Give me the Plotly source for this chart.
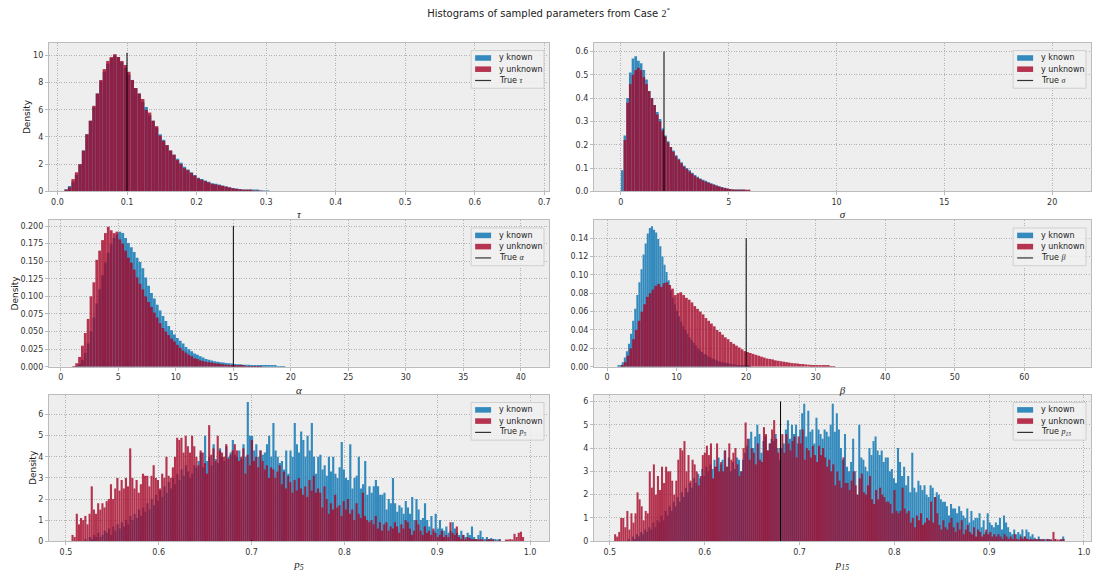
import plotly.graph_objects as go

# ---------------- data (bin heights) ----------------
TAU_BIN_START = 0.010
TAU_BIN_WIDTH = 0.005
TAU_KNOWN = [0.15, 0.4, 0.7, 1.2, 2.0, 3.0, 4.2, 5.2, 6.2, 7.2, 8.1, 8.8, 9.4, 9.8, 10.0, 9.9, 9.5, 9.1,
             8.6, 8.2, 7.6, 7.2, 6.6, 6.2, 5.6, 5.2, 4.7, 4.2, 3.8, 3.4, 3.0, 2.7, 2.4, 2.1, 1.8, 1.6,
             1.4, 1.2, 1.0, 0.9, 0.8, 0.7, 0.6, 0.55, 0.5, 0.42, 0.36, 0.3, 0.25, 0.2, 0.17, 0.14,
             0.12, 0.1, 0.08, 0.06, 0.05, 0.04, 0.03]
TAU_UNKNOWN = [0.1, 0.3, 0.9, 1.4, 2.0, 3.0, 4.2, 5.2, 6.3, 7.2, 8.2, 9.0, 9.6, 9.9, 10.1, 9.9, 9.6, 9.3,
               8.8, 8.2, 7.6, 7.2, 6.8, 6.0, 5.8, 5.2, 4.8, 4.1, 3.7, 3.4, 3.0, 2.7, 2.3, 2.0, 1.7, 1.55,
               1.35, 1.15, 0.95, 0.85, 0.75, 0.65, 0.55, 0.5, 0.45, 0.4, 0.35, 0.28, 0.22, 0.18, 0.15,
               0.12, 0.1, 0.08, 0.05, 0.04, 0.02]

SIGMA_BIN_START = 0.0
SIGMA_BIN_WIDTH = 0.125
SIGMA_KNOWN = [0.09, 0.24, 0.40, 0.51, 0.57, 0.58, 0.56, 0.55, 0.52, 0.48, 0.43, 0.40, 0.37, 0.34, 0.31,
               0.27, 0.24, 0.215, 0.19, 0.175, 0.155, 0.14, 0.125, 0.11, 0.10, 0.09, 0.08, 0.07, 0.062,
               0.055, 0.05, 0.045, 0.04, 0.035, 0.03, 0.026, 0.022, 0.018, 0.015, 0.012, 0.01, 0.008,
               0.006, 0.005, 0.004, 0.003, 0.002, 0.002]
SIGMA_UNKNOWN = [0.0, 0.22, 0.38, 0.46, 0.50, 0.52, 0.53, 0.52, 0.49, 0.46, 0.43, 0.40, 0.37, 0.33, 0.30,
                 0.26, 0.235, 0.21, 0.19, 0.17, 0.15, 0.135, 0.12, 0.105, 0.095, 0.085, 0.075, 0.065,
                 0.058, 0.052, 0.046, 0.041, 0.036, 0.032, 0.028, 0.024, 0.02, 0.017, 0.014, 0.012, 0.01,
                 0.008, 0.007, 0.006, 0.005, 0.004, 0.003, 0.003]

ALPHA_BIN_START = 1.0
ALPHA_BIN_WIDTH = 0.25
ALPHA_KNOWN = [0.0, 0.001, 0.004, 0.01, 0.02, 0.033, 0.05, 0.07, 0.09, 0.11, 0.13, 0.148, 0.162, 0.174,
               0.183, 0.188, 0.192, 0.19, 0.183, 0.176, 0.17, 0.163, 0.155, 0.149, 0.14, 0.127, 0.115,
               0.105, 0.097, 0.088, 0.08, 0.072, 0.065, 0.058, 0.052, 0.046, 0.041, 0.037, 0.033, 0.028,
               0.025, 0.022, 0.019, 0.017, 0.015, 0.013, 0.011, 0.01, 0.009, 0.008, 0.007, 0.0065, 0.006,
               0.0055, 0.005, 0.0045, 0.004, 0.0037, 0.0035, 0.003, 0.003, 0.0027, 0.0025, 0.0022, 0.002,
               0.002, 0.0018, 0.0016, 0.0015, 0.0013, 0.0012, 0.001, 0.0008, 0.0006, 0.0]
ALPHA_UNKNOWN = [0.001, 0.005, 0.014, 0.03, 0.048, 0.068, 0.10, 0.12, 0.152, 0.165, 0.18, 0.19, 0.199,
                 0.194, 0.19, 0.192, 0.181, 0.175, 0.165, 0.155, 0.148, 0.138, 0.127, 0.118, 0.11, 0.10,
                 0.092, 0.085, 0.077, 0.07, 0.062, 0.055, 0.05, 0.045, 0.04, 0.036, 0.031, 0.027, 0.023,
                 0.02, 0.017, 0.015, 0.012, 0.011, 0.009, 0.008, 0.007, 0.0065, 0.006, 0.005, 0.0045,
                 0.004, 0.0035, 0.003, 0.0028, 0.0025, 0.002, 0.0018, 0.0015, 0.0013, 0.001, 0.0009,
                 0.0008, 0.0007, 0.0006, 0.0004]

BETA_KNOWN_START = 1.5
BETA_KNOWN_WIDTH = 0.3
BETA_KNOWN = [0.001, 0.002, 0.005, 0.01, 0.017, 0.025, 0.036, 0.05, 0.063, 0.078, 0.092, 0.106, 0.122,
              0.134, 0.145, 0.151, 0.153, 0.149, 0.146, 0.139, 0.131, 0.12, 0.111, 0.103, 0.094, 0.083,
              0.075, 0.068, 0.061, 0.055, 0.049, 0.044, 0.04, 0.036, 0.032, 0.029, 0.026, 0.023, 0.02,
              0.018, 0.016, 0.014, 0.013, 0.011, 0.01, 0.009, 0.008, 0.007, 0.006, 0.0055, 0.005, 0.0045,
              0.004, 0.0035, 0.003, 0.0027, 0.0024, 0.002, 0.0018, 0.0015, 0.0012, 0.001, 0.0008, 0.0006]
BETA_UNKNOWN_START = 2.0
BETA_UNKNOWN_WIDTH = 0.4
BETA_UNKNOWN = [0.002, 0.005, 0.012, 0.02, 0.03, 0.04, 0.05, 0.06, 0.068, 0.076, 0.08, 0.084, 0.088, 0.09,
                0.087, 0.091, 0.092, 0.089, 0.085, 0.078, 0.08, 0.081, 0.078, 0.075, 0.073, 0.07, 0.066,
                0.063, 0.06, 0.057, 0.053, 0.05, 0.047, 0.044, 0.04, 0.038, 0.035, 0.032, 0.03, 0.027,
                0.025, 0.023, 0.021, 0.019, 0.017, 0.016, 0.015, 0.014, 0.013, 0.012, 0.011, 0.01, 0.009,
                0.0085, 0.008, 0.007, 0.0065, 0.006, 0.0055, 0.005, 0.0045, 0.004, 0.0038, 0.0035, 0.003,
                0.003, 0.0025, 0.0022, 0.002, 0.0018, 0.0015, 0.0012, 0.001, 0.001, 0.0008, 0.0006, 0.0005]

P5_BIN_WIDTH = 0.0023
P5_KNOWN_START = 0.52
P5_KNOWN = [0.1, 0.0, 0.2, 0.1, 0.3, 0.2, 0.4, 0.2, 0.3, 0.5, 0.4, 0.6, 0.3, 0.7, 0.5, 0.8, 0.6, 0.9, 0.7, 1.0,
            0.8, 1.2, 1.0, 1.3, 1.1, 1.5, 1.2, 1.6, 1.4, 1.8, 1.5, 2.0, 1.7, 2.2, 1.9, 2.4, 2.1, 2.6, 2.3, 2.8,
            2.5, 3.0, 2.7, 3.2, 2.9, 3.4, 3.1, 3.6, 3.3, 3.0, 3.2, 3.6, 3.5, 3.8,
            4.2, 3.5, 5.0, 3.8, 4.0, 3.6, 4.6, 3.9, 3.7, 4.4, 4.0, 3.8, 4.5, 4.0, 4.2, 4.8, 4.1, 4.0, 4.3, 3.9,
            4.6, 4.0, 6.6, 5.0, 5.0, 4.3, 4.6, 4.0, 4.3, 4.1, 4.2, 4.6, 5.0, 4.0, 5.6, 4.3, 4.0, 3.7, 3.8, 3.4,
            4.3, 3.2, 4.3, 4.0, 5.6, 4.6, 4.2, 5.2, 4.8, 4.0, 5.0, 4.3, 5.6, 4.0, 3.2, 4.0, 4.1, 3.4, 3.6, 3.1,
            4.0, 3.3, 4.0, 3.2, 3.0, 3.5, 4.7, 3.4, 3.0, 2.9, 4.6, 2.5, 3.0, 3.1, 4.0, 2.5, 2.7, 3.8, 2.2, 2.6,
            2.3, 2.6, 2.9, 2.6, 2.2, 2.2, 2.3, 1.5, 2.0, 1.8, 3.0, 1.8, 1.4, 1.7, 1.6, 1.3, 1.9, 1.6, 1.3, 2.1,
            1.0, 2.0, 1.5, 1.0, 1.1, 1.8, 1.0, 0.7, 1.2, 0.5, 1.3, 0.6, 1.0, 0.6, 0.5, 0.7, 0.4, 0.5, 0.9, 0.6,
            0.4, 0.3, 0.5, 0.3, 0.2, 0.4, 0.3, 0.7, 0.2, 0.1, 0.3, 0.5, 0.2, 0.1, 0.2, 0.1, 0.15, 0.1, 0.1, 0.05,
            0.1]
P5_UNKNOWN_START = 0.506
P5_UNKNOWN = [0.3, 0.2, 1.3, 0.8, 1.1, 1.0, 1.2, 0.8, 1.3, 2.6, 1.5, 1.3, 1.8, 1.5, 1.8, 1.6, 1.9, 2.0, 2.7, 2.0,
              2.5, 3.0, 2.4, 2.9, 2.5, 3.0, 2.6, 4.4, 3.0, 2.5, 2.9, 2.3, 2.7, 3.2, 3.1, 3.1, 2.6, 3.1, 3.6, 3.0,
              2.9, 2.5, 3.2, 3.0, 4.0, 3.1, 3.0, 3.5, 4.0, 4.9, 4.8, 4.9, 4.2, 5.0, 4.5, 4.2, 5.0, 4.5, 4.0, 3.6,
              4.3, 4.2, 3.7, 3.2, 5.5, 4.1, 4.4, 3.8, 5.0, 4.3, 4.2, 4.0, 4.6, 3.9, 4.1, 4.3, 4.6, 4.3, 3.8, 4.0,
              4.4, 3.2, 4.1, 3.6, 4.8, 3.8, 4.0, 3.5, 4.3, 3.8, 3.4, 3.6, 3.0, 3.5, 3.4, 3.0, 3.3, 3.6, 2.7, 3.3,
              2.5, 3.1, 2.8, 2.3, 2.9, 2.4, 3.0, 2.5, 2.2, 2.6, 2.1, 2.9, 2.4, 3.1, 2.3, 2.5, 2.3, 1.6, 2.6, 2.0,
              1.3, 1.8, 1.5, 2.2, 1.6, 1.7, 1.2, 1.9, 1.5, 2.0, 1.3, 1.5, 1.0, 1.8, 1.3, 1.1, 2.3, 1.2, 1.0, 0.9,
              1.0, 0.8, 1.2, 0.6, 0.9, 0.5, 0.8, 0.9, 0.5, 0.7, 0.6, 0.9, 0.7, 0.4, 0.8, 0.6, 1.0, 0.9, 0.6, 0.3,
              0.5, 1.0, 0.8, 0.5, 0.3, 0.7, 0.4, 0.5, 0.3, 0.6, 0.4, 0.2, 0.3, 0.5, 0.2, 0.3, 0.2, 0.9, 0.4, 0.3,
              0.7, 0.2, 0.1, 0.3, 0.1, 0.2, 0.15, 0.1, 0.1, 0.1, 0.05, 0.1, 0.05, 0.0, 0.05, 0.1, 0.05, 0.05, 0.0, 0.0,
              0.05, 0.0, 0.0, 0.05, 0.05, 0.1, 0.05, 0.35, 0.2, 0.4, 0.45, 0.2]

P15_BIN_WIDTH = 0.00215
P15_KNOWN_START = 0.519
P15_KNOWN = [0.1, 0.0, 0.2, 0.1, 0.3, 0.2, 0.4, 0.3, 0.5, 0.4, 0.6, 0.5, 0.8, 0.6, 0.9, 0.8, 1.1, 0.9, 1.3, 1.1,
             1.5, 1.3, 1.7, 1.5, 1.9, 1.7, 2.1, 1.9, 2.3, 2.1, 2.5, 2.3, 2.7, 2.5, 2.9, 2.7, 3.1, 2.8, 3.2, 3.0,
             3.3, 3.1, 3.5, 3.2, 3.6, 3.3, 3.5,
             3.9, 3.2, 3.6, 3.0, 3.4, 3.1, 3.6, 3.5, 3.0, 3.5, 3.8, 4.1, 4.4, 4.7, 4.0, 4.5, 5.0, 4.6, 3.8, 4.3,
             4.5, 3.9, 4.2, 4.4, 4.3, 4.6, 4.0, 3.5, 4.0, 4.2, 4.8, 5.2, 4.4, 5.0, 4.6, 5.0, 4.2, 4.8, 5.5, 5.9,
             4.5, 5.6, 4.7, 4.8, 4.2, 5.3, 4.8, 4.6, 4.4, 4.8, 4.7, 4.5, 5.0, 5.9, 4.7, 5.5, 4.8, 4.0, 3.5, 4.6,
             3.2, 3.0, 3.4, 4.4, 3.0, 2.0, 5.0, 3.6, 3.5, 3.2, 3.0, 4.0, 3.7, 4.3, 4.5, 3.9, 3.7, 3.9, 3.4, 3.6,
             3.6, 3.0, 3.1, 2.7, 2.5, 4.0, 3.4, 2.8, 3.2, 2.4, 2.8, 2.1, 3.8, 2.3, 2.1, 2.6, 2.4, 2.2, 2.4, 2.0,
             1.9, 2.4, 2.3, 1.9, 2.1, 2.0, 1.8, 1.7, 1.7, 1.5, 1.1, 1.6, 1.4, 1.4, 1.2, 1.5, 1.3, 1.1, 1.0, 1.4,
             0.8, 1.3, 0.9, 1.0, 1.0, 1.2, 0.6, 0.9, 0.4, 1.2, 0.8, 0.7, 0.6, 0.8, 0.7, 1.0, 0.5, 1.1, 0.8, 0.6,
             0.4, 0.3, 0.5, 0.3, 0.4, 0.3, 0.5, 0.2, 0.5, 0.4, 0.2, 0.3, 0.15, 0.1, 0.2, 0.1, 0.05, 0.1, 0.05, 0.1,
             0.05, 0.0, 0.05, 0.0, 0.0, 0.1, 0.2]
P15_UNKNOWN_START = 0.5045
P15_UNKNOWN = [0.3, 0.2, 0.4, 1.0, 1.0, 0.6, 1.3, 0.5, 1.2, 0.8, 1.2, 2.1, 1.8, 1.5, 0.9, 1.3, 1.2, 3.0, 2.3, 3.3,
               2.0, 2.8, 2.2, 3.2, 2.5, 3.2, 3.0, 3.0, 2.6, 2.0, 2.6, 3.5, 4.0, 3.9, 4.3, 3.0, 3.7, 2.6, 3.5, 3.3,
               3.0, 2.4, 2.8, 3.7, 3.8, 4.1, 3.7, 4.2, 2.7, 3.2, 4.2, 3.0, 3.4, 3.0, 3.9, 3.2, 4.2, 3.5, 3.8, 4.0,
               3.3, 2.8, 3.0, 4.0, 5.1, 4.4, 3.5, 4.0, 3.8, 3.3, 4.2, 3.5, 3.4, 4.9, 4.6, 3.9, 4.2, 4.8, 5.2, 4.4,
               3.8, 4.0, 4.6, 3.8, 4.6, 4.2, 3.9, 4.3, 4.5, 3.6, 4.5, 4.2, 4.8, 3.5, 4.0, 3.9, 3.6, 4.1, 3.7, 3.4,
               4.1, 3.7, 4.0, 3.6, 3.2, 3.5, 3.0, 3.3, 2.4, 3.0, 2.6, 2.3, 3.6, 2.5, 2.5, 2.2, 2.6, 3.0, 2.4, 2.0,
               2.7, 2.9, 2.1, 2.0, 2.4, 2.8, 1.8, 1.6, 2.2, 1.8, 2.3, 2.0, 1.9, 1.7, 1.7, 1.6, 1.2, 2.2, 1.3, 1.2,
               1.3, 2.3, 1.4, 1.2, 1.3, 0.8, 1.0, 0.6, 1.1, 0.9, 1.2, 0.7, 0.8, 1.0, 0.9, 1.7, 0.8, 1.9, 1.2, 0.7,
               0.5, 0.9, 0.6, 0.5, 0.8, 1.0, 0.6, 0.4, 0.8, 0.5, 0.9, 0.3, 0.5, 0.7, 0.4, 0.3, 0.6, 0.2, 0.5, 0.4,
               0.2, 0.3, 0.5, 0.3, 0.4, 0.2, 0.3, 0.2, 0.3, 0.2, 0.1, 0.3, 0.2, 0.1, 0.2, 0.1, 0.3, 0.1, 0.05, 0.2,
               0.1, 0.2, 0.1, 0.05, 0.1, 0.05, 0.1, 0.05, 0.1, 0.05, 0.1, 0.0, 0.1, 0.05, 0.05, 0.4, 0.1, 0.05, 0.05, 0.05,
               0.1]

TRUE_VALUES = [0.1, 2.0, 15.0, 20.0, 0.7, 0.68]
TRUE_LINE_TOPS = [10.2, 0.6, 0.2, 0.14, 0.05, 6.0]

SERIES_NAMES = ["y known", "y unknown"]
SYMBOLS = ["τ", "σ", "α", "β", "p<sub>5</sub>", "p<sub>15</sub>"]
TITLE = "Histograms of sampled parameters from Case "

# ---------------- styling ----------------
BLUE = "#348ABD"
RED = "#A60628"
RED_A = "rgba(166,6,40,0.8)"
FACE = "#eeeeee"
EDGE = "#bcbcbc"
GRID = "#b2b2b2"
SANS = "DejaVu Sans"
SERIF = "Liberation Serif"

W, H = 1097, 572
COL_PX = [(49, 550), (595, 1093)]      # frame left/right in pixels
ROW_PX = [(43, 193), (222, 370), (398, 546)]  # frame top/bottom in pixels
col_dom = [[l / W, r / W] for l, r in COL_PX]
row_dom = [[1 - b / H, 1 - t / H] for t, b in ROW_PX]

panels = [
    dict(known=(TAU_KNOWN, TAU_BIN_START, TAU_BIN_WIDTH), unknown=(TAU_UNKNOWN, TAU_BIN_START, TAU_BIN_WIDTH),
         xr=[-0.0123, 0.7067], yr=[0, 10.95], xd=0.1, xf=".1f", yd=2, yf="d"),
    dict(known=(SIGMA_KNOWN, SIGMA_BIN_START, SIGMA_BIN_WIDTH), unknown=(SIGMA_UNKNOWN, SIGMA_BIN_START, SIGMA_BIN_WIDTH),
         xr=[-1.25, 21.8], yr=[0, 0.638], xd=5, xf="d", yd=0.1, yf=".1f"),
    dict(known=(ALPHA_KNOWN, ALPHA_BIN_START, ALPHA_BIN_WIDTH), unknown=(ALPHA_UNKNOWN, ALPHA_BIN_START, ALPHA_BIN_WIDTH),
         xr=[-1.04, 42.45], yr=[0, 0.2085], xd=5, xf="d", yd=0.025, yf=".3f"),
    dict(known=(BETA_KNOWN, BETA_KNOWN_START, BETA_KNOWN_WIDTH), unknown=(BETA_UNKNOWN, BETA_UNKNOWN_START, BETA_UNKNOWN_WIDTH),
         xr=[-1.9, 69.6], yr=[0, 0.1596], xd=10, xf="d", yd=0.02, yf=".2f"),
    dict(known=(P5_KNOWN, P5_KNOWN_START, P5_BIN_WIDTH), unknown=(P5_UNKNOWN, P5_UNKNOWN_START, P5_BIN_WIDTH),
         xr=[0.4817, 1.0204], yr=[0, 6.95], xd=0.1, xf=".1f", yd=1, yf="d"),
    dict(known=(P15_KNOWN, P15_KNOWN_START, P15_BIN_WIDTH), unknown=(P15_UNKNOWN, P15_UNKNOWN_START, P15_BIN_WIDTH),
         xr=[0.4832, 1.0074], yr=[0, 6.3], xd=0.1, xf=".1f", yd=1, yf="d"),
]

fig = go.Figure()
shapes = []
annotations = []
layout = dict(
    width=W, height=H, margin=dict(l=0, r=0, t=0, b=0),
    paper_bgcolor="white", plot_bgcolor=FACE, barmode="overlay", showlegend=False,
    font=dict(family=SANS, size=8, color="#222"),
    title=dict(text=TITLE + f"<span style='font-family:{SERIF}'>2<sup>*</sup></span>",
               x=0.5, xanchor="center", y=1 - 13 / H, yanchor="middle",
               font=dict(family=SANS, size=10, color="#222")),
)


def px(x):
    return x / W


def py(y):
    return 1 - y / H


for i, p in enumerate(panels):
    n = i + 1
    r, c = divmod(i, 2)
    xa = "x" if n == 1 else f"x{n}"
    ya = "y" if n == 1 else f"y{n}"
    for (vals, start, width), name, color, op in [
        (p["known"], SERIES_NAMES[0], BLUE, 1.0),
        (p["unknown"], SERIES_NAMES[1], RED, 0.8),
    ]:
        centers = [start + (k + 0.5) * width for k in range(len(vals))]
        fig.add_trace(go.Bar(x=centers, y=vals, width=width, name=name,
                             marker=dict(color=color, line=dict(width=0)), opacity=op,
                             xaxis=xa, yaxis=ya, hoverinfo="skip"))
    fig.add_trace(go.Scatter(x=[TRUE_VALUES[i], TRUE_VALUES[i]], y=[0, TRUE_LINE_TOPS[i]], mode="lines",
                             line=dict(color="black", width=1), name="True",
                             xaxis=xa, yaxis=ya, hoverinfo="skip"))
    axis_common = dict(showline=True, linecolor=EDGE, linewidth=1, mirror=True,
                       showgrid=True, gridcolor=GRID, gridwidth=1, griddash="1px,1.5px",
                       zeroline=False, ticks="outside", ticklen=3, tickcolor=EDGE,
                       tickfont=dict(family=SANS, size=8, color="#333"))
    layout["xaxis" if n == 1 else f"xaxis{n}"] = dict(
        axis_common, domain=col_dom[c], anchor=ya, range=p["xr"], dtick=p["xd"], tick0=0,
        tickformat=p["xf"],
        title=dict(text=f"<i>{SYMBOLS[i]}</i>", font=dict(family=SERIF, size=11, color="#222"), standoff=4))
    ydict = dict(axis_common, domain=row_dom[r], anchor=xa, range=p["yr"], dtick=p["yd"], tick0=0,
                 tickformat=p["yf"])
    if c == 0:
        ydict["title"] = dict(text="Density", font=dict(family=SANS, size=9, color="#222"), standoff=0)
    layout["yaxis" if n == 1 else f"yaxis{n}"] = ydict

    # legend box drawn in pixel positions relative to the panel frame
    R = COL_PX[c][1]
    T = ROW_PX[r][0]
    bx0, bx1, by0, by1 = R - 78, R - 5, T + 8, T + 46
    shapes.append(dict(type="rect", xref="paper", yref="paper", x0=px(bx0), x1=px(bx1), y0=py(by1), y1=py(by0),
                       fillcolor="rgba(240,240,240,0.85)", line=dict(color="#cfcfcf", width=1), layer="above"))
    rows_y = [T + 15.5, T + 26.8, T + 38.2]
    hx0, hx1 = bx0 + 4, bx0 + 20
    for yy, col in zip(rows_y[:2], [BLUE, RED_A]):
        shapes.append(dict(type="rect", xref="paper", yref="paper", x0=px(hx0), x1=px(hx1),
                           y0=py(yy + 2.8), y1=py(yy - 2.8), fillcolor=col, line=dict(width=0), layer="above"))
    shapes.append(dict(type="line", xref="paper", yref="paper", x0=px(hx0), x1=px(hx1),
                       y0=py(rows_y[2]), y1=py(rows_y[2]), line=dict(color="#333", width=1.2), layer="above"))
    labels = [SERIES_NAMES[0], SERIES_NAMES[1],
              f"True <span style='font-family:{SERIF}'><i>{SYMBOLS[i]}</i></span>"]
    for yy, txt in zip(rows_y, labels):
        annotations.append(dict(xref="paper", yref="paper", x=px(hx1 + 6), y=py(yy), text=txt,
                                showarrow=False, xanchor="left", yanchor="middle",
                                font=dict(family=SANS, size=8, color="#222")))

layout["shapes"] = shapes
layout["annotations"] = annotations
fig.update_layout(**layout)
fig.write_html("out.html")
